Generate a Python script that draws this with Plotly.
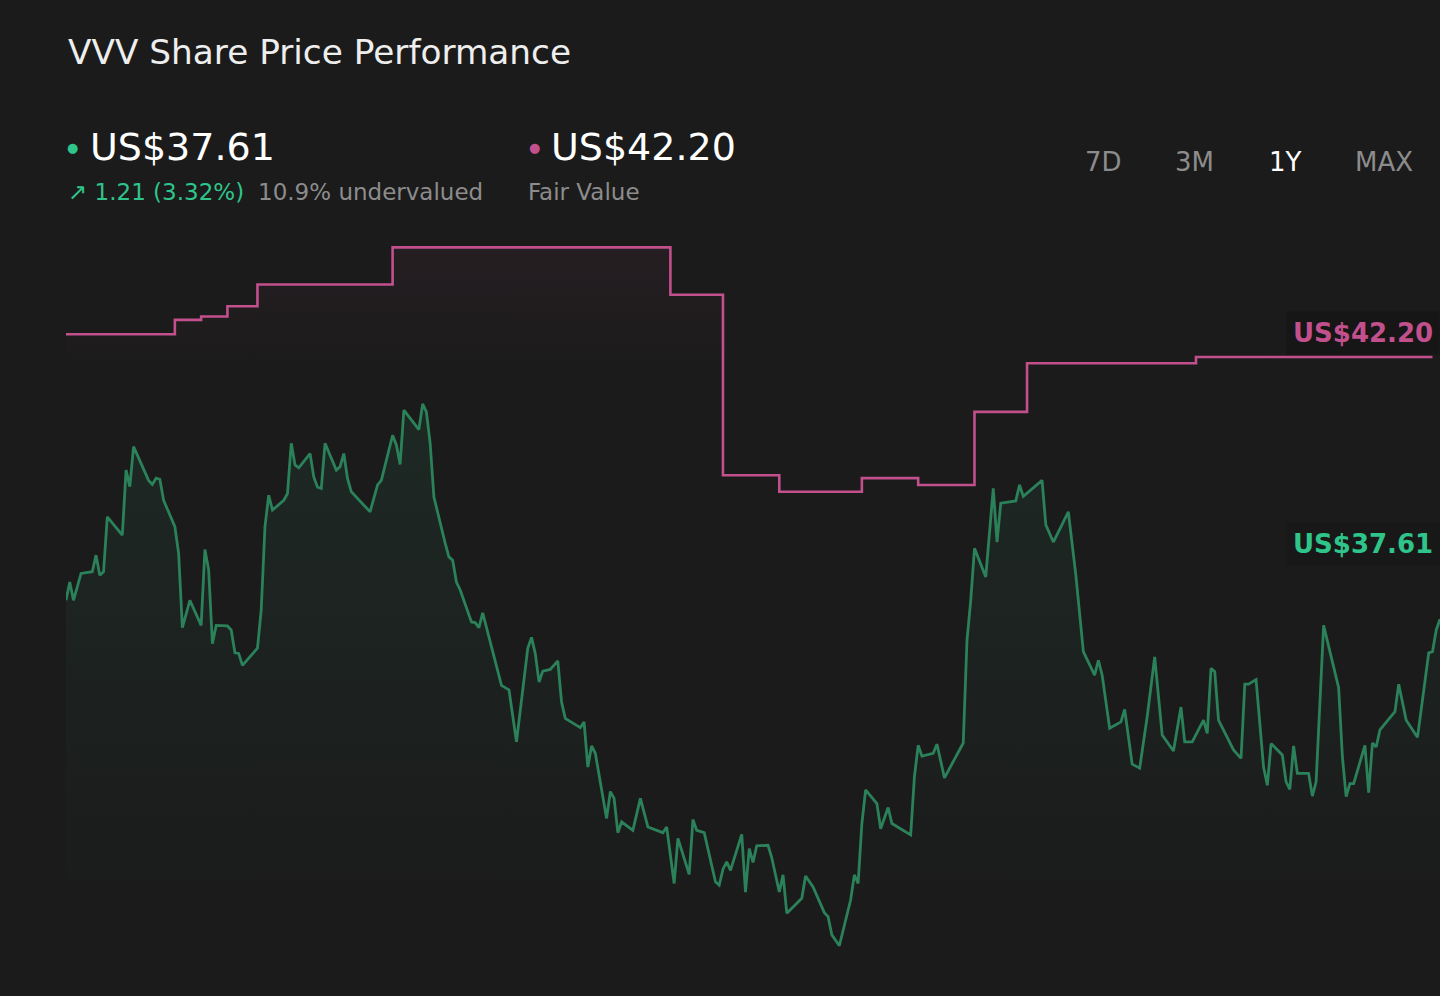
import pandas as pd
import plotly.graph_objects as go

# Share price (calendar days since start)
price_days = [0, 1, 2, 4, 7, 8, 9, 10, 11, 15,
              16, 17, 18, 22, 23, 24, 25, 26, 29, 30,
              31, 33, 36, 37, 38, 39, 40, 43, 44, 45,
              46, 47, 51, 52, 53, 54, 55, 58, 59, 60,
              61, 62, 65, 66, 67, 68, 69, 72, 73, 74,
              75, 76, 81, 83, 84, 87, 88, 89, 90, 94,
              95, 96, 97, 98, 101, 102, 103, 104, 105, 108,
              109, 110, 111, 116, 118, 120, 123, 124, 125, 126,
              127, 129, 131, 132, 133, 137, 138, 139, 140, 141,
              144, 145, 146, 147, 148, 151, 153, 155, 159, 160,
              162, 163, 166, 167, 168, 170, 173, 174, 175, 176,
              177, 180, 181, 182, 183, 184, 187, 188, 190, 191,
              192, 196, 197, 199, 202, 203, 204, 206, 209, 210,
              211, 212, 213, 216, 217, 219, 220, 225, 226, 227,
              228, 231, 232, 234, 239, 240, 241, 242, 245, 247,
              248, 249, 253, 254, 255, 260, 261, 263, 267, 269,
              271, 274, 275, 276, 278, 281, 282, 284, 286, 288,
              290, 292, 295, 297, 298, 300, 303, 304, 305, 306,
              307, 311, 313, 314, 315, 317, 319, 320, 321, 324,
              325, 326, 327, 328, 331, 332, 333, 335, 339, 340,
              341, 342, 343, 346, 347, 348, 349, 350, 354, 355,
              357, 360, 363, 364, 365, 366]
price = [37.94, 38.26, 37.94, 38.41, 38.44, 38.73, 38.38, 38.44, 39.40, 39.08,
         40.22, 39.93, 40.63, 40.04, 39.97, 40.08, 40.06, 39.69, 39.23, 38.76,
         37.46, 37.94, 37.50, 38.83, 38.47, 37.18, 37.50, 37.49, 37.42, 37.02,
         37.01, 36.80, 37.10, 37.77, 39.23, 39.78, 39.52, 39.69, 39.81, 40.69,
         40.31, 40.26, 40.51, 40.10, 39.92, 39.90, 40.69, 40.22, 40.28, 40.51,
         40.07, 39.84, 39.49, 39.96, 40.04, 40.83, 40.66, 40.32, 41.27, 40.93,
         41.38, 41.24, 40.69, 39.75, 38.94, 38.70, 38.64, 38.26, 38.12, 37.56,
         37.55, 37.46, 37.72, 36.45, 36.37, 35.46, 37.10, 37.29, 37.01, 36.51,
         36.70, 36.73, 36.88, 36.16, 35.87, 35.71, 35.81, 35.02, 35.39, 35.26,
         34.12, 34.59, 34.47, 33.87, 34.06, 33.91, 34.47, 33.97, 33.87, 33.97,
         32.98, 33.77, 33.14, 34.10, 33.91, 33.87, 33.01, 32.95, 33.23, 33.36,
         33.21, 33.84, 32.83, 33.59, 33.35, 33.64, 33.65, 33.43, 32.83, 33.13,
         32.46, 32.72, 33.11, 32.92, 32.47, 32.40, 32.08, 31.89, 32.69, 33.13,
         32.98, 34.03, 34.62, 34.38, 33.94, 34.31, 34.03, 33.83, 34.85, 35.40,
         35.21, 35.26, 35.42, 34.83, 35.44, 37.24, 37.94, 38.85, 38.35, 39.90,
         38.96, 39.64, 39.68, 39.96, 39.76, 40.04, 39.26, 38.96, 39.49, 38.38,
         37.04, 36.63, 36.89, 36.63, 35.70, 35.81, 36.03, 35.07, 35.00, 35.90,
         36.95, 35.58, 35.30, 36.07, 35.46, 35.46, 35.84, 35.61, 36.75, 36.69,
         35.84, 35.32, 35.17, 36.47, 36.47, 36.55, 35.02, 34.70, 35.43, 35.23,
         34.76, 34.63, 35.39, 34.91, 34.91, 34.51, 34.76, 37.50, 36.41, 35.20,
         34.50, 34.73, 34.73, 35.40, 34.57, 35.44, 35.37, 35.67, 35.99, 36.47,
         35.84, 35.54, 37.02, 37.04, 37.42, 37.61]

# Fair value estimate, changes stepwise
fv_days = [0, 29, 36, 43, 51, 87, 161, 175, 190, 212, 227, 242, 256, 301, 364]
fair_value = [42.60, 42.85, 42.91, 43.09, 43.47, 44.12, 43.29, 40.13, 39.84,
              40.08, 39.96, 41.24, 42.09, 42.20, 42.20]

start = pd.Timestamp("2023-11-19")
price_dates = start + pd.to_timedelta(price_days, unit="D")
fv_dates = start + pd.to_timedelta(fv_days, unit="D")

last_price = price[-1]
last_fv = fair_value[-1]
change = 1.21
change_pct = 3.32
undervalued = (last_fv - last_price) / last_fv * 100

BG = "#1b1b1b"
GREEN = "#2b8159"
GREEN_TXT = "#2fc48a"
PINK = "#c2508d"
GREY = "#8c8c8c"
FONT = "DejaVu Sans"

fig = go.Figure()

fig.add_trace(go.Scatter(
    x=fv_dates, y=fair_value, mode="lines",
    line=dict(color=PINK, width=2.6, shape="hv"),
    fill="tozeroy",
    fillgradient=dict(type="vertical", start=41.8, stop=44.12,
                      colorscale=[[0, "rgba(194,80,141,0)"], [1, "rgba(194,80,141,0.06)"]]),
    hoverinfo="skip",
))

fig.add_trace(go.Scatter(
    x=price_dates, y=price, mode="lines",
    line=dict(color=GREEN, width=2.8),
    fill="tozeroy",
    fillgradient=dict(type="vertical", start=32.5, stop=41.4,
                      colorscale=[[0, "rgba(45,133,96,0)"], [1, "rgba(45,133,96,0.13)"]]),
    hoverinfo="skip",
))

# plot area is 66..1440 px wide and 220..960 px tall
def px(x):
    return (x - 66) / 1374

def py(y):
    return (960 - y) / 740

def note(text, x, y, size, color, xanchor="left", **kw):
    fig.add_annotation(text=text, x=px(x), y=py(y), xref="paper", yref="paper",
                       xanchor=xanchor, yanchor="middle", showarrow=False,
                       font=dict(family=FONT, size=size, color=color), **kw)

note("VVV Share Price Performance", 66, 52, 34.3, "#eeeeee")

note("●", 65, 147, 13, GREEN_TXT)
note(f"US${last_price:.2f}", 88, 147, 38, "#ffffff")
note(f"↗ {change:.2f} ({change_pct:.2f}%)", 66, 192, 23, GREEN_TXT)
note(f"{undervalued:.1f}% undervalued", 256, 192, 23, GREY)

note("●", 527, 147, 13, PINK)
note(f"US${last_fv:.2f}", 549, 147, 38, "#ffffff")
note("Fair Value", 526, 192, 23, GREY)

for label, cx in [("7D", 1103), ("3M", 1194), ("1Y", 1285), ("MAX", 1384)]:
    note(label, cx, 162, 26, "#ffffff" if label == "1Y" else GREY, xanchor="center")

note(f"<b>US${last_fv:.2f}</b>", 1286, 333, 26, PINK, bgcolor="#161616", borderpad=6)
note(f"<b>US${last_price:.2f}</b>", 1286, 544, 26, GREEN_TXT, bgcolor="#181818", borderpad=6)

fig.update_xaxes(visible=False, range=[start, start + pd.Timedelta(days=366)])
fig.update_yaxes(visible=False, range=[31.64, 44.60])

fig.update_layout(
    width=1440, height=996,
    margin=dict(l=66, r=0, t=220, b=36),
    paper_bgcolor=BG, plot_bgcolor=BG,
    showlegend=False,
)

fig.write_html("out.html", config={"displayModeBar": False},
               post_script="document.body.style.margin='0';document.body.style.overflow='hidden';")
